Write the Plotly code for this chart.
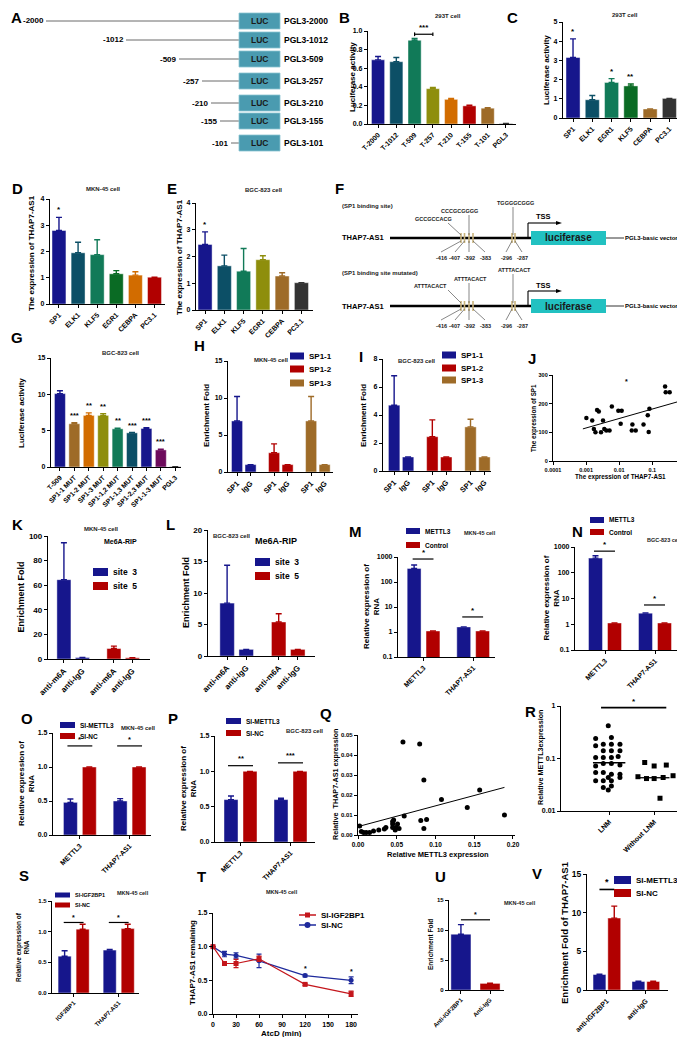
import numpy as np
import plotly.graph_objects as go

W, H = 685, 1037
FONT = 'Liberation Sans, Arial, sans-serif'

NAVY = '#16168c'
RED = '#b10000'
TEAL = '#0c4f66'
GREEN = '#117a58'
DGREEN = '#0a6b24'
OLIVE = '#8e8e0c'
ORANGE = '#d26c00'
BROWN = '#9e6b28'
DGRAY = '#333333'
PURPLE = '#6d0b5c'
LUC = '#4a9bb0'
CYAN = '#22c1c1'
TAN = '#c8b27a'

# ---------------- data ----------------
a_starts = ['-2000', '-1012', '-509', '-257', '-210', '-155', '-101']
a_names = ['PGL3-2000', 'PGL3-1012', 'PGL3-509', 'PGL3-257', 'PGL3-210', 'PGL3-155', 'PGL3-101']

b_labels = ['T-2000', 'T-1012', 'T-509', 'T-257', 'T-210', 'T-155', 'T-101', 'PGL3']
b_values = [0.69, 0.67, 0.90, 0.38, 0.265, 0.195, 0.17, 0.005]
b_errors = [0.035, 0.045, 0.02, 0.012, 0.01, 0.006, 0.006, 0.0]

c_labels = ['SP1', 'ELK1', 'EGR1', 'KLF5', 'CEBPA', 'PC3.1']
c_values = [3.15, 0.95, 1.85, 1.67, 0.47, 1.02]
c_errors = [0.97, 0.22, 0.2, 0.1, 0.0, 0.0]
c_stars = ['*', '', '*', '**', '', '']

d_labels = ['SP1', 'ELK1', 'KLF5', 'EGR1', 'CEBPA', 'PC3.1']
d_values = [2.8, 1.95, 1.88, 1.15, 1.1, 1.02]
d_errors = [0.5, 0.4, 0.57, 0.12, 0.13, 0.0]
d_stars = ['*', '', '', '', '', '']

e_labels = ['SP1', 'ELK1', 'KLF5', 'EGR1', 'CEBPA', 'PC3.1']
e_values = [2.45, 1.65, 1.45, 1.88, 1.27, 1.02]
e_errors = [0.47, 0.4, 0.85, 0.15, 0.12, 0.0]
e_stars = ['*', '', '', '', '', '']

f_positions = ['-416', '-407', '-392', '-383', '-296', '-287']
f_wt_seqs = ['GCCGCCACG', 'CCCGCGGGG', 'TGGGGCGGG']
f_mut_seqs = ['ATTTACACT', 'ATTTACACT', 'ATTTACACT']

g_labels = ['T-509', 'SP1-1 MUT', 'SP1-2 MUT', 'SP1-3 MUT', 'SP1-1,2 MUT',
            'SP1-1,3 MUT', 'SP1-2,3 MUT', 'SP1-1-3 MUT', 'PGL3']
g_values = [10.1, 5.95, 7.1, 7.1, 5.25, 4.7, 5.3, 2.35, 0.05]
g_errors = [0.4, 0.15, 0.35, 0.25, 0.08, 0.05, 0.1, 0.1, 0.0]
g_stars = ['', '***', '**', '**', '**', '***', '***', '***', '']

h_sites = ['SP1-1', 'SP1-2', 'SP1-3']
h_sp1 = [6.9, 2.6, 6.9]
h_sp1_err = [3.3, 1.2, 3.3]
h_igg = [1.0, 1.0, 1.0]

i_sp1 = [4.7, 2.45, 3.15]
i_sp1_err = [2.1, 1.2, 0.55]
i_igg = [1.0, 1.0, 1.0]

j_thap7 = [0.00102, 0.00153, 0.00172, 0.00192, 0.00215, 0.00242, 0.00283, 0.00325, 0.00355,
           0.00408, 0.00511, 0.006, 0.00944, 0.0119, 0.0111, 0.0251, 0.024, 0.0316, 0.0544,
           0.0731, 0.082, 0.078, 0.244, 0.255, 0.336, 0.663]
j_sp1 = [150, 141, 112, 100, 178, 173, 100, 141, 112, 106, 106, 190, 175, 175, 130, 127, 106,
         106, 127, 160, 182, 101, 260, 240, 240, 200]
j_fit_x = [0.0008, 0.65]
j_fit_y = [112, 208]

k_sites = ['site  3', 'site  5']
k_ticks = ['anti-m6A', 'anti-IgG']
k_m6a = [64.5, 8.5]
k_m6a_err = [30.0, 2.0]
k_igg = [1.2, 1.0]
l_m6a = [8.4, 5.4]
l_m6a_err = [6.0, 1.3]
l_igg = [1.05, 1.05]

mn_genes = ['METTL3', 'THAP7-AS1']
m_mettl3 = [350, 1.6]
m_mettl3_err = [130, 0.0]
m_control = [1.1, 1.1]
n_mettl3 = [370, 2.7]
n_mettl3_err = [90, 0.05]
n_control = [1.12, 1.12]

op_genes = ['METTL3', 'THAP7-AS1']
o_si = [0.48, 0.5]
o_si_err = [0.05, 0.035]
o_nc = [1.0, 1.0]
o_stars = ['*', '*']
p_si = [0.6, 0.6]
p_si_err = [0.05, 0.02]
p_nc = [1.0, 1.0]
p_stars = ['**', '***']

q_mettl3 = [0.0021, 0.0043, 0.0072, 0.0106, 0.0149, 0.020, 0.0268, 0.034, 0.036, 0.0447,
            0.0447, 0.0447, 0.046, 0.048, 0.049, 0.051, 0.053, 0.058, 0.0596, 0.0796, 0.081,
            0.085, 0.085, 0.0885, 0.1077, 0.141, 0.157, 0.189]
q_thap7 = [0.0045, 0.0017, 0.0012, 0.0012, 0.0012, 0.002, 0.0025, 0.003, 0.0037, 0.0038,
           0.0055, 0.0067, 0.0075, 0.0025, 0.0038, 0.0055, 0.0033, 0.0465, 0.0095, 0.0455,
           0.0072, 0.0275, 0.0033, 0.0078, 0.0178, 0.0138, 0.0225, 0.010]
q_fit_x = [0.0, 0.189]
q_fit_y = [0.0042, 0.0238]

r_groups = ['LNM', 'Without LNM']
r_lnm = [0.42, 0.24, 0.25, 0.175, 0.187, 0.187, 0.187, 0.14, 0.14, 0.14, 0.104, 0.104, 0.104,
         0.109, 0.08, 0.08, 0.072, 0.075, 0.054, 0.054, 0.05, 0.05, 0.0435, 0.0376, 0.0376,
         0.0376, 0.0435, 0.028, 0.030, 0.025]
r_lnm_col = [-0.02, -0.30, 0.05, -0.30, -0.13, 0.05, 0.24, -0.13, 0.05, 0.24, -0.30, -0.13,
             0.05, 0.20, -0.13, 0.05, -0.30, 0.24, -0.30, -0.13, 0.05, 0.24, -0.02, -0.30,
             -0.13, 0.05, 0.24, -0.13, 0.05, -0.02]
r_wo = [0.084, 0.072, 0.075, 0.045, 0.0415, 0.0415, 0.0435, 0.047, 0.0175]
r_wo_col = [-0.21, 0.0, 0.27, -0.36, -0.17, 0.0, 0.2, 0.42, 0.13]
r_medians = [0.083, 0.043]

s_genes = ['IGF2BP1', 'THAP7-AS1']
s_si = [0.6, 0.7]
s_si_err = [0.09, 0.01]
s_nc = [1.04, 1.05]
s_nc_err = [0.08, 0.07]

t_time = [0, 15, 30, 60, 120, 180]
t_igf = [1.0, 0.75, 0.75, 0.82, 0.44, 0.3]
t_igf_err = [0.0, 0.03, 0.06, 0.04, 0.015, 0.04]
t_nc = [1.0, 0.89, 0.87, 0.79, 0.57, 0.5]
t_nc_err = [0.0, 0.04, 0.04, 0.1, 0.02, 0.05]

u_labels = ['Anti-IGF2BP1', 'Anti-IgG']
u_values = [9.3, 1.1]
u_errors = [1.6, 0.05]

v_labels = ['anti-IGF2BP1', 'anti-IgG']
v_si = [2.0, 1.1]
v_si_err = [0.05, 0.05]
v_nc = [9.3, 1.1]
v_nc_err = [1.55, 0.05]

# ---------------- helpers ----------------
fig = go.Figure()
axes_layout = {}
n_axes = 0

AX = dict(showline=True, linecolor='black', linewidth=1.3, ticks='outside', ticklen=3,
          tickwidth=1, tickcolor='black', showgrid=False, zeroline=False, automargin=False,
          fixedrange=True, tickfont=dict(family=FONT, size=7, color='black', weight='bold'))


def tf(size):
    return dict(family=FONT, size=size, color='black', weight='bold')


def axes(box, xr, yr, xkw=None, ykw=None):
    global n_axes
    n_axes += 1
    k = '' if n_axes == 1 else str(n_axes)
    x0, x1, yt, yb = box
    xa = dict(AX, domain=[x0 / W, x1 / W], anchor='y' + k, range=xr)
    ya = dict(AX, domain=[1 - yb / H, 1 - yt / H], anchor='x' + k, range=yr)
    xa.update(xkw or {})
    ya.update(ykw or {})
    axes_layout['xaxis' + k] = xa
    axes_layout['yaxis' + k] = ya
    return 'x' + k, 'y' + k


def cat_ticks(vals, text, size=7):
    return dict(tickmode='array', tickvals=vals, ticktext=text, tickangle=-45, tickfont=tf(size))


def bar(xa, ya, x, y, err, color, width):
    fig.add_trace(go.Bar(
        x=x, y=y, width=width, xaxis=xa, yaxis=ya,
        marker=dict(color=color, line=dict(color='rgba(255,255,255,0.55)', width=0.8)),
        error_y=dict(type='data', array=err, arrayminus=[0] * len(err), symmetric=False,
                     color=color, thickness=1.4, width=3),
        showlegend=False, hoverinfo='skip'))


def ann(x, y, s, size=7, xanchor='center', yanchor='middle', angle=0, color='black'):
    fig.add_annotation(x=x / W, y=1 - y / H, xref='paper', yref='paper', text=s,
                       showarrow=False, xanchor=xanchor, yanchor=yanchor, textangle=angle,
                       borderpad=0, font=dict(family=FONT, size=size, color=color, weight='bold'))


def dtext(xa, ya, x, y, s, size=8):
    # on log axes y must be given as log10
    fig.add_annotation(x=x, y=y, xref=xa, yref=ya, text=s, showarrow=False, yanchor='bottom',
                       borderpad=0, font=tf(size))


def dline(xa, ya, x0, y0, x1, y1, width=1.2):
    # shapes take plain data values, also on log axes
    fig.add_shape(type='line', xref=xa, yref=ya, x0=x0, x1=x1, y0=y0, y1=y1,
                  line=dict(color='black', width=width))


def rect(x0, y0, x1, y1, color, lc=None, lw=0):
    fig.add_shape(type='rect', xref='paper', yref='paper', x0=x0 / W, x1=x1 / W,
                  y0=1 - y0 / H, y1=1 - y1 / H, fillcolor=color,
                  line=dict(color=lc or color, width=lw))


def seg(x0, y0, x1, y1, color='black', width=1):
    fig.add_shape(type='line', xref='paper', yref='paper', x0=x0 / W, x1=x1 / W,
                  y0=1 - y0 / H, y1=1 - y1 / H, line=dict(color=color, width=width))


def letter(x, y, s):
    ann(x, y, s, size=15, xanchor='left')


def swatch_legend(x, ys, w, h, colors, labels, size=7):
    for yy, c, lab in zip(ys, colors, labels):
        rect(x, yy - h / 2, x + w, yy + h / 2, c)
        ann(x + w + 4, yy, lab, size=size, xanchor='left')


# ---------------- A ----------------
letter(2, 10, 'A')
a_rows = [13, 32, 51, 73, 95, 113, 135]
a_label_right = [37, 117, 170, 193, 202, 211, 222]
for yy, xr_, s, name in zip(a_rows, a_label_right, a_starts, a_names):
    ann(xr_, yy, s, size=8, xanchor='right')
    seg(xr_ + 1, yy, 231, yy, color='#6b6b6b', width=1)
    rect(231, yy - 8, 272, yy + 8, LUC, lc='#8cc4d2', lw=0.8)
    ann(251.5, yy, 'LUC', size=8.5, color='#1a1a1a')
    ann(275, yy, name, size=8.5, xanchor='left')

# ---------------- B ----------------
letter(330, 10, 'B')
ann(440, 8, '293T cell', size=6, color='#222')
xa, ya = axes((360, 508, 23, 116), [-0.55, 7.55], [0, 1],
              cat_ticks(list(range(8)), b_labels), dict(dtick=0.2, tickformat='.1f'))
b_colors = [NAVY, TEAL, GREEN, OLIVE, ORANGE, RED, BROWN, DGRAY]
for i in range(8):
    bar(xa, ya, [i], [b_values[i]], [b_errors[i]], b_colors[i], 0.72)
dline(xa, ya, 2, 0.965, 3, 0.965)
dline(xa, ya, 2, 0.945, 2, 0.985)
dline(xa, ya, 3, 0.945, 3, 0.985)
dtext(xa, ya, 2.5, 0.975, '***', 8)
ann(344, 69, 'Luciferase activity', size=8, angle=-90)

# ---------------- C ----------------
letter(498, 10, 'C')
ann(617, 7, '293T cell', size=6, color='#222')
xa, ya = axes((555, 672, 14, 110), [-0.52, 5.55], [0, 5],
              cat_ticks(list(range(6)), c_labels), dict(dtick=1))
c_colors = [NAVY, TEAL, GREEN, DGREEN, BROWN, DGRAY]
for i in range(6):
    bar(xa, ya, [i], [c_values[i]], [c_errors[i]], c_colors[i], 0.73)
    if c_stars[i]:
        dtext(xa, ya, i, c_values[i] + c_errors[i] + 0.08, c_stars[i])
ann(538, 62, 'Luciferase activity', size=8, angle=-90)

# ---------------- D ----------------
letter(3, 180, 'D')
ann(95, 181, 'MKN-45 cell', size=6, color='#222')
xa, ya = axes((42, 157, 191, 296), [-0.47, 5.55], [0, 4],
              cat_ticks(list(range(6)), d_labels), dict(dtick=1))
d_colors = [NAVY, TEAL, GREEN, DGREEN, ORANGE, RED]
for i in range(6):
    bar(xa, ya, [i], [d_values[i]], [d_errors[i]], d_colors[i], 0.73)
    if d_stars[i]:
        dtext(xa, ya, i, d_values[i] + d_errors[i] + 0.08, d_stars[i])
ann(24, 245, 'The expression of THAP7-AS1', size=8, angle=-90)

# ---------------- E ----------------
letter(158, 180, 'E')
ann(256, 182, 'BGC-823 cell', size=6, color='#222')
xa, ya = axes((188, 305, 195, 302), [-0.47, 5.6], [0, 4],
              cat_ticks(list(range(6)), e_labels), dict(dtick=1))
e_colors = [NAVY, TEAL, GREEN, OLIVE, BROWN, DGRAY]
for i in range(6):
    bar(xa, ya, [i], [e_values[i]], [e_errors[i]], e_colors[i], 0.73)
    if e_stars[i]:
        dtext(xa, ya, i, e_values[i] + e_errors[i] + 0.08, e_stars[i])
ann(171, 249, 'The expression of THAP7-AS1', size=8, angle=-90)

# ---------------- F ----------------
letter(326, 180, 'F')
f_marks = [453, 456.5, 461, 465, 504, 507]
f_num_x = [433, 447, 461, 477, 498, 514]
for base, seqs, seq_pos, head, head_y in [
        (230, f_wt_seqs, [(425, 211), (452, 203), (507, 195)], '(SP1 binding site)', 198),
        (298, f_mut_seqs, [(422, 278), (462, 271), (506, 262)], '(SP1 binding site mutated)', 265)]:
    ann(333, head_y, head, size=6, xanchor='left', color='#222')
    ann(333, base, 'THAP7-AS1', size=7.5, xanchor='left')
    seg(382, base, 523, base, width=2.6)
    for mx in f_marks:
        seg(mx, base - 5, mx, base + 5, color=TAN, width=1.6)
    for mx, nx, lab in zip(f_marks, f_num_x, f_positions):
        seg(mx, base + 3, nx, base + 14, color='#555', width=0.7)
        ann(nx, base + 20, lab, size=5.5, color='#222')
    targets = [453, 461, 505]
    starts = [440, 461, 505]
    for (sx, sy), s, tx, st in zip(seq_pos, seqs, targets, starts):
        ann(sx, sy, s, size=5.5, color='#222')
        seg(st, sy + 4, tx, base - 3, color='#555', width=0.7)
    # TSS arrow
    seg(520, base, 520, base - 15, width=1.1)
    seg(520, base - 15, 550, base - 15, width=1.1)
    fig.add_shape(type='path', xref='paper', yref='paper', fillcolor='black', line=dict(width=0),
                  path=f'M {554 / W},{1 - (base - 15) / H} L {548 / W},{1 - (base - 17) / H} '
                       f'L {548 / W},{1 - (base - 13) / H} Z')
    ann(535, base - 21, 'TSS', size=7.5)
    rect(523, base - 7, 598, base + 7, CYAN)
    ann(560, base, 'luciferase', size=10, color='#1a1a1a')
    seg(598, base, 616, base, width=0.8)
    ann(616, base, 'PGL3-basic vector', size=6, xanchor='left')

# ---------------- G ----------------
letter(2, 330, 'G')
ann(113, 345, 'BGC-823 cell', size=6, color='#222')
xa, ya = axes((43, 173, 350, 459), [-0.62, 8.4], [0, 15],
              cat_ticks(list(range(9)), g_labels, 6.8), dict(dtick=5))
g_colors = [NAVY, BROWN, ORANGE, OLIVE, GREEN, TEAL, NAVY, PURPLE, DGRAY]
for i in range(9):
    bar(xa, ya, [i], [g_values[i]], [g_errors[i]], g_colors[i], 0.76)
    if g_stars[i]:
        dtext(xa, ya, i, g_values[i] + g_errors[i] + 0.25, g_stars[i], 7.5)
ann(13, 405, 'Luciferase activity', size=8, angle=-90)

# ---------------- H / I ----------------
hi_pos = [[0, 1], [2.74, 3.74], [5.48, 6.48]]
hi_colors = [NAVY, RED, BROWN]
hi_vals = [p for grp in hi_pos for p in grp]
for (box, xr_, yr_, dt, sp1, sp1e, igg, lx, ly, lab, title, tx, ty, ytx, lgx, lgy) in [
        ((220, 325, 353, 464), [-0.67, 7.1], [0, 15], 5, h_sp1, h_sp1_err, h_igg, 185, 337, 'H',
         'MKN-45 cell', 263, 352, 198, 282, [348, 361, 375]),
        ((375, 483, 351, 463), [-0.8, 6.95], [0, 8], 2, i_sp1, i_sp1_err, i_igg, 350, 348, 'I',
         'BGC-823 cell', 408, 353, 355, 434, [347, 360, 372])]:
    letter(lx, ly, lab)
    ann(tx, ty, title, size=6, color='#222')
    xa, ya = axes(box, xr_, yr_, cat_ticks(hi_vals, ['SP1', 'IgG'] * 3, 7.5), dict(dtick=dt))
    for g in range(3):
        bar(xa, ya, [hi_pos[g][0]], [sp1[g]], [sp1e[g]], hi_colors[g], 0.82)
        bar(xa, ya, [hi_pos[g][1]], [igg[g]], [0.0], hi_colors[g], 0.82)
    swatch_legend(lgx, lgy, 14, 7, hi_colors, h_sites, 8)
    ann(ytx, 408, 'Enrichment Fold', size=8, angle=-90)

# ---------------- J ----------------
letter(519, 350, 'J')
xa, ya = axes((545, 679, 367, 453), [-4, 0.05], [0, 300],
              dict(type='log', tickmode='array', tickvals=[0.0001, 0.001, 0.01, 0.1, 1],
                   ticktext=['0.0001', '0.001', '0.01', '0.1', '1'], tickfont=tf(5.5)),
              dict(dtick=100, tickfont=tf(5.5)))
fig.add_trace(go.Scatter(x=j_fit_x, y=j_fit_y, xaxis=xa, yaxis=ya, mode='lines',
                         line=dict(color='black', width=1), showlegend=False, hoverinfo='skip'))
fig.add_trace(go.Scatter(x=j_thap7, y=j_sp1, xaxis=xa, yaxis=ya, mode='markers',
                         marker=dict(color='black', size=4.5), cliponaxis=False,
                         showlegend=False, hoverinfo='skip'))
dtext(xa, ya, -1.78, 262, '*', 7)
ann(526, 410, 'The expression of SP1', size=6.3, angle=-90)
ann(612, 469, 'The expression of THAP7-AS1', size=6.3)

# ---------------- K / L ----------------
kl_pos = [[0, 1], [2.7, 3.7]]
kl_vals = [p for grp in kl_pos for p in grp]
for (box, xr_, yr_, dt, m6a, m6ae, igg, lx, ly, lab, ytx, lgx, lgy) in [
        ((40, 142, 528, 651), [-0.86, 4.65], [0, 100], 20, k_m6a, k_m6a_err, k_igg, 3, 517, 'K',
         12, 85, [564, 578]),
        ((200, 307, 522, 648), [-1.0, 4.6], [0, 20], 5, l_m6a, l_m6a_err, l_igg, 157, 517, 'L',
         178, 247, [554, 568])]:
    letter(lx, ly, lab)
    xa, ya = axes(box, xr_, yr_, cat_ticks(kl_vals, k_ticks * 2, 8), dict(dtick=dt, tickfont=tf(8)))
    for g, col in enumerate([NAVY, RED]):
        bar(xa, ya, [kl_pos[g][0]], [m6a[g]], [m6ae[g]], col, 0.76)
        bar(xa, ya, [kl_pos[g][1]], [igg[g]], [0.0], col, 0.76)
    swatch_legend(lgx, lgy, 15, 8, [NAVY, RED], k_sites, 8.5)
    ann(ytx, (box[2] + box[3]) / 2, 'Enrichment Fold', size=9, angle=-90)
ann(93, 521, 'MKN-45 cell', size=6, color='#222')
ann(112, 533, 'Me6A-RIP', size=7)
ann(223, 528, 'BGC-823 cell', size=6, color='#222')
ann(268, 533, 'Me6A-RIP', size=9)

# ---------------- M / N ----------------
log_ticks = dict(type='log', tickmode='array', tickvals=[0.1, 1, 10, 100, 1000],
                 ticktext=['0.1', '1', '10', '100', '1000'])
for (box, xr_, met, mete, ctl, lx, ly, lab, title, tx, ty, ytx, lgx, lgy, brk) in [
        ((390, 487, 549, 649), [-0.515, 1.44], m_mettl3, m_mettl3_err, m_control, 340, 523, 'M',
         'MKN-45 cell', 472, 525, 363, 398, [523, 537], [830, 4.0]),
        ((567, 670, 539, 642), [-0.6, 1.46], n_mettl3, n_mettl3_err, n_control, 563, 523, 'N',
         'BGC-823 cell', 656, 532, 543, 582, [512, 524], [690, 5.6])]:
    letter(lx, ly, lab)
    ann(tx, ty, title, size=5.5, color='#222')
    xa, ya = axes(box, xr_, [-1, 3], cat_ticks([0, 1], mn_genes, 7), log_ticks)
    bar(xa, ya, [-0.19, 0.81], met, mete, NAVY, 0.28)
    bar(xa, ya, [0.19, 1.19], ctl, [0.0, 0.0], RED, 0.28)
    for g in range(2):
        dline(xa, ya, g - 0.22, brk[g], g + 0.2, brk[g])
        dtext(xa, ya, g, np.log10(brk[g]) + 0.03, '*', 8)
    swatch_legend(lgx, lgy, 14, 6, [NAVY, RED], ['METTL3', 'Control'], 6.5)
    ann(ytx, (box[2] + box[3]) / 2, 'Relative expression of<br>RNA', size=8, angle=-90)

# ---------------- O / P ----------------
for (box, xr_, si, sie, nc, stars, brk, lx, lab, title, tx, ty, ytx, lgx, lgy) in [
        ((45, 143, 725, 827), [-0.54, 1.43], o_si, o_si_err, o_nc, o_stars, [1.31, 1.31], 12, 'O',
         'MKN-45 cell', 130, 720, 18, 52, [717, 728]),
        ((207, 307, 728, 834), [-0.51, 1.49], p_si, p_si_err, p_nc, p_stars, [1.08, 1.12], 159, 'P',
         'BGC-823 cell', 296, 723, 180, 218, [713, 725])]:
    letter(lx, 710, lab)
    ann(tx, ty, title, size=6, color='#222')
    xa, ya = axes(box, xr_, [0, 1.5], cat_ticks([0, 1], op_genes, 7), dict(dtick=0.5, tickformat='.1f'))
    bar(xa, ya, [-0.19, 0.81], si, sie, NAVY, 0.28)
    bar(xa, ya, [0.19, 1.19], nc, [0.0, 0.0], RED, 0.28)
    for g in range(2):
        dline(xa, ya, g - 0.25, brk[g], g + 0.25, brk[g])
        dtext(xa, ya, g, brk[g] + 0.02, stars[g], 7.5)
    swatch_legend(lgx, lgy, 15, 6, [NAVY, RED], ['SI-METTL3', 'SI-NC'], 6.5)
    ann(ytx, (box[2] + box[3]) / 2, 'Relative expression of<br>RNA', size=8, angle=-90)

# ---------------- Q ----------------
letter(311, 705, 'Q')
xa, ya = axes((350, 507, 727, 827), [0, 0.2026], [0, 0.05],
              dict(dtick=0.05, tickformat='.2f', tickfont=tf(6.5)),
              dict(dtick=0.01, tickformat='.2f', tickfont=tf(6)))
fig.add_trace(go.Scatter(x=q_fit_x, y=q_fit_y, xaxis=xa, yaxis=ya, mode='lines',
                         line=dict(color='black', width=1), showlegend=False, hoverinfo='skip'))
fig.add_trace(go.Scatter(x=q_mettl3, y=q_thap7, xaxis=xa, yaxis=ya, mode='markers',
                         marker=dict(color='black', size=5), cliponaxis=False,
                         showlegend=False, hoverinfo='skip'))
dtext(xa, ya, 0.1256, 0.0505, '*', 7)
ann(327, 777, 'Relative  THAP7-AS1 expression', size=7.2, angle=-90)
ann(430, 846, 'Relative METTL3 expression', size=7.5)

# ---------------- R ----------------
letter(516, 703, 'R')
xa, ya = axes((553, 670, 698, 803), [-1.07, 1.53], [-2, 0],
              cat_ticks([0, 1], r_groups, 7),
              dict(type='log', tickmode='array', tickvals=[0.01, 0.1, 1], ticktext=['0.01', '0.1', '1']))
fig.add_trace(go.Scatter(x=r_lnm_col, y=r_lnm, xaxis=xa, yaxis=ya, mode='markers',
                         marker=dict(color='black', size=5), cliponaxis=False,
                         showlegend=False, hoverinfo='skip'))
fig.add_trace(go.Scatter(x=[1 + c for c in r_wo_col], y=r_wo, xaxis=xa, yaxis=ya, mode='markers',
                         marker=dict(color='black', size=5, symbol='square'), cliponaxis=False,
                         showlegend=False, hoverinfo='skip'))
for g, half in enumerate([0.36, 0.34]):
    fig.add_trace(go.Scatter(x=[g - half, g + half], y=[r_medians[g]] * 2, xaxis=xa, yaxis=ya,
                             mode='lines', line=dict(color='black', width=1.3),
                             showlegend=False, hoverinfo='skip'))
dline(xa, ya, -0.18, 0.93, 1.27, 0.93, width=1.6)
dtext(xa, ya, 0.55, np.log10(0.97), '*', 8)
ann(532, 750, 'Relative METTL3expression', size=7.2, angle=-90)

# ---------------- S ----------------
letter(10, 867, 'S')
ann(125, 885, 'MKN-45 cell', size=5.5, color='#222')
xa, ya = axes((44, 131, 893, 985), [-0.48, 1.45], [0, 1.5],
              cat_ticks([0, 1], s_genes, 6), dict(dtick=0.5, tickformat='.1f', tickfont=tf(6)))
bar(xa, ya, [-0.2, 0.8], s_si, s_si_err, NAVY, 0.29)
bar(xa, ya, [0.2, 1.2], s_nc, s_nc_err, RED, 0.29)
for g in range(2):
    dline(xa, ya, g - 0.22, 1.15, g + 0.22, 1.15)
    dtext(xa, ya, g, 1.16, '*', 7)
swatch_legend(47, [887, 897], 15, 5, [NAVY, RED], ['SI-IGF2BP1', 'SI-NC'], 5.5)
ann(14, 939, 'Relative expression of<br>RNA', size=6.5, angle=-90)

# ---------------- T ----------------
letter(188, 868, 'T')
ann(274, 884, 'MKN-45 cell', size=5.5, color='#222')
xa, ya = axes((205, 350, 905, 1006), [0, 189], [0, 1.5],
              dict(tickmode='array', tickvals=[0, 30, 60, 90, 120, 150, 180]),
              dict(dtick=0.5, tickformat='.1f'))
fig.add_trace(go.Scatter(x=t_time, y=t_nc, xaxis=xa, yaxis=ya, mode='lines+markers',
                         line=dict(color='#1e2a9c', width=1.2),
                         marker=dict(color='#1e2a9c', size=5, symbol='circle'),
                         error_y=dict(type='data', array=t_nc_err, color='#1e2a9c', thickness=1.2, width=2.5),
                         cliponaxis=False, showlegend=False, hoverinfo='skip'))
fig.add_trace(go.Scatter(x=t_time, y=t_igf, xaxis=xa, yaxis=ya, mode='lines+markers',
                         line=dict(color='#c4161c', width=1.2),
                         marker=dict(color='#c4161c', size=5, symbol='square'),
                         error_y=dict(type='data', array=t_igf_err, color='#c4161c', thickness=1.2, width=2.5),
                         cliponaxis=False, showlegend=False, hoverinfo='skip'))
dtext(xa, ya, 120, 0.61, '*', 7)
dtext(xa, ya, 180, 0.57, '*', 7)
for yy, col, lab, sym in [(907, '#c4161c', 'SI-IGF2BP1', 'square'), (917, '#1e2a9c', 'SI-NC', 'circle')]:
    seg(291, yy, 308, yy, color=col, width=1.5)
    if sym == 'square':
        rect(297, yy - 2.5, 302, yy + 2.5, col)
    else:
        fig.add_shape(type='circle', xref='paper', yref='paper', fillcolor=col, line=dict(width=0),
                      x0=296.5 / W, x1=302.5 / W, y0=1 - (yy + 3) / H, y1=1 - (yy - 3) / H)
    ann(312, yy, lab, size=8, xanchor='left')
ann(184, 955, 'THAP7-AS1 remaining', size=8, angle=-90)
ann(273, 1025, 'AtcD (min)', size=8)

# ---------------- U ----------------
letter(426, 868, 'U')
ann(512, 895, 'MKN-45 cell', size=5.5, color='#222')
xa, ya = axes((441, 496, 892, 982), [-0.41, 1.48], [0, 15],
              cat_ticks([0, 1], u_labels, 6), dict(dtick=5, tickfont=tf(6)))
bar(xa, ya, [0], [u_values[0]], [u_errors[0]], NAVY, 0.69)
bar(xa, ya, [1], [u_values[1]], [u_errors[1]], RED, 0.69)
dline(xa, ya, 0, 11.7, 1, 11.7)
dtext(xa, ya, 0.5, 11.9, '*', 7)
ann(422, 937, 'Enrichment Fold', size=6.5, angle=-90)

# ---------------- V ----------------
letter(523, 865, 'V')
xa, ya = axes((579, 660, 866, 982), [-0.51, 1.57], [0, 15],
              cat_ticks([0, 1], v_labels, 7), dict(dtick=5, tickfont=tf(8.5)))
bar(xa, ya, [-0.19, 0.81], v_si, v_si_err, NAVY, 0.33)
bar(xa, ya, [0.19, 1.19], v_nc, v_nc_err, RED, 0.33)
dline(xa, ya, -0.19, 13, 0.19, 13, width=1.6)
dtext(xa, ya, 0, 13.2, '*', 9)
swatch_legend(606, [872, 885], 17, 8, [NAVY, RED], ['SI-METTL3', 'SI-NC'], 8)
ann(556, 925, 'Enrichment Fold of THAP7-AS1', size=9.5, angle=-90)

fig.update_layout(width=W, height=H, margin=dict(l=0, r=0, t=0, b=0), template='none',
                  paper_bgcolor='white', plot_bgcolor='white', barmode='overlay',
                  showlegend=False, font=dict(family=FONT, color='black'), **axes_layout)
fig.write_html('out.html', config={'displayModeBar': False})
